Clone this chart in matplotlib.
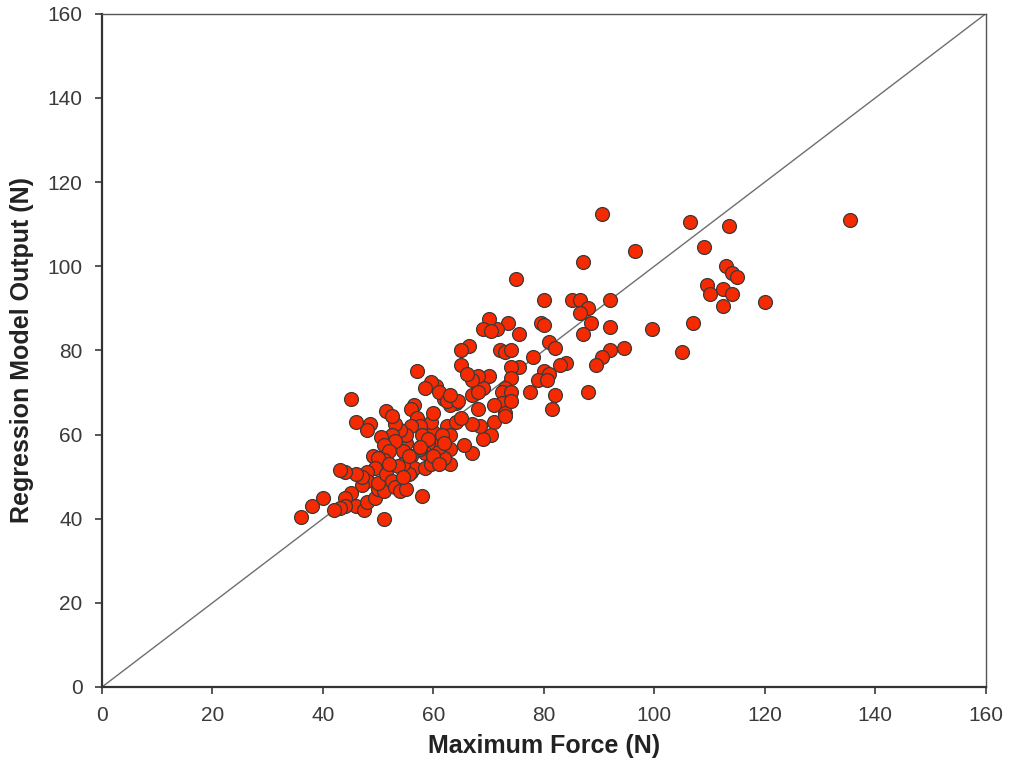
import matplotlib
matplotlib.use("Agg")
import matplotlib.pyplot as plt
import numpy as np

max_force = [
    135.4, 90.5, 106.5, 113.5, 96.5, 87.0, 75.0, 109.0,
    109.5, 110.0, 112.5, 113.0, 114.0, 115.0, 114.0, 112.5, 120.0, 107.0, 105.0, 99.5, 94.5,
    85.0, 86.5, 88.0, 92.0, 86.5, 88.5, 92.0, 87.0, 92.0, 90.5, 89.5, 84.0, 83.0, 88.0, 81.5,
    82.0, 80.0, 79.5, 80.0, 81.0, 82.0, 80.0, 81.0, 79.0, 80.5, 78.0, 77.5,
    75.5, 73.5, 71.5, 70.0, 69.0, 70.5, 72.0, 73.0, 74.0, 75.5, 74.0, 74.0, 73.0, 72.5, 74.0,
    72.5, 71.0, 73.0, 74.0, 71.0, 70.5, 69.0, 73.0, 70.0, 69.0, 68.0, 67.0, 66.5, 65.0, 65.0,
    66.0, 67.0, 68.0, 68.0, 68.5, 67.0, 67.0, 65.5, 64.0, 63.0, 62.0, 62.5, 63.0, 63.0, 63.0,
    62.0, 61.0, 60.5, 60.0, 61.5, 59.5, 60.0, 60.5, 59.5, 61.0, 62.5, 58.5, 57.0, 56.5, 56.0,
    57.0, 57.5, 56.0, 58.0, 59.0, 58.5, 57.5, 56.0, 55.0, 54.5, 55.0, 54.0, 53.0, 52.5, 53.0,
    51.5, 52.5, 50.5, 51.0, 52.0, 51.0, 49.0, 48.5, 48.0, 46.0, 45.0, 50.0, 49.5, 48.0, 48.0,
    47.0, 47.0, 46.0, 44.0, 43.0, 45.0, 44.0, 46.0, 44.0, 43.0, 42.0, 40.0, 38.0, 36.0, 47.5,
    48.0, 49.5, 50.0, 51.0, 50.0, 51.5, 52.5, 53.0, 54.0, 55.0, 56.0, 56.5, 55.5, 54.5, 53.5,
    52.0, 51.0, 58.0, 58.5, 59.5, 60.0, 61.0, 62.0, 64.0, 65.0, 64.5, 63.0, 59.0, 57.5, 55.5,
    54.5,
]
model_output = [
    111.0, 112.5, 110.5, 109.5, 103.5, 101.0, 97.0, 104.5,
    95.5, 93.5, 94.5, 100.0, 98.5, 97.5, 93.5, 90.5, 91.5, 86.5, 79.5, 85.0, 80.5,
    92.0, 92.0, 90.0, 92.0, 89.0, 86.5, 85.5, 84.0, 80.0, 78.5, 76.5, 77.0, 76.5, 70.0, 66.0,
    69.5, 92.0, 86.5, 86.0, 82.0, 80.5, 75.0, 74.5, 73.0, 73.0, 78.5, 70.0,
    84.0, 86.5, 85.0, 87.5, 85.0, 84.5, 80.0, 79.5, 80.0, 76.0, 76.0, 73.5, 71.0, 70.0, 70.0,
    67.5, 67.0, 65.0, 68.0, 63.0, 60.0, 59.0, 64.5, 74.0, 71.0, 74.0, 73.0, 81.0, 80.0, 76.5,
    74.5, 69.5, 70.0, 66.0, 62.0, 62.5, 55.5, 57.5, 67.5, 67.0, 68.5, 62.0, 60.0, 56.5, 53.0,
    54.5, 57.0, 59.0, 60.5, 60.0, 63.0, 65.0, 71.5, 72.5, 70.0, 68.0, 71.0, 75.0, 67.0, 66.0,
    64.0, 62.0, 62.0, 60.0, 58.0, 55.5, 56.5, 55.0, 58.0, 56.0, 60.0, 61.0, 62.5, 60.0, 58.5,
    65.5, 64.5, 59.5, 57.5, 56.0, 54.0, 55.0, 62.5, 61.0, 63.0, 68.5, 54.5, 52.0, 51.0, 49.0,
    48.0, 50.0, 50.5, 51.0, 51.5, 46.0, 45.0, 43.0, 43.0, 42.5, 42.0, 45.0, 43.0, 40.5, 42.0,
    44.0, 45.0, 47.0, 46.5, 48.5, 50.5, 49.0, 47.5, 46.5, 47.0, 51.0, 52.0, 50.5, 53.0, 52.5,
    53.0, 40.0, 45.5, 52.0, 53.0, 55.0, 53.0, 58.0, 63.0, 64.0, 68.0, 69.5, 59.0, 57.0, 55.0,
    50.0,
]

plt.rcParams['font.family'] = ['Liberation Sans', 'DejaVu Sans']

fig = plt.figure(figsize=(10.1, 7.65), dpi=100)
ax = fig.add_axes([0.101, 0.102, 0.875, 0.880])

# 1:1 reference line
ax.plot([0, 160], [0, 160], color='#6e6e6e', linewidth=1.0, zorder=1)

ax.scatter(max_force, model_output, s=100, color='#f52a00', edgecolors='#3a3a3a',
           linewidths=0.9, zorder=3)

ax.set_xlim(0, 160)
ax.set_ylim(0, 160)
ax.set_xticks(np.arange(0, 161, 20))
ax.set_yticks(np.arange(0, 161, 20))
ax.tick_params(direction='out', length=5, width=1.2, labelsize=15, colors='#3a3a3a',
               pad=9)
for side in ['left', 'bottom']:
    ax.spines[side].set_linewidth(1.6)
    ax.spines[side].set_color('#333333')
for side in ['top', 'right']:
    ax.spines[side].set_linewidth(1.0)
    ax.spines[side].set_color('#555555')

ax.set_xlabel('Maximum Force (N)', fontsize=18, fontweight='bold', color='#222222', labelpad=6)
ax.set_ylabel('Regression Model Output (N)', fontsize=18, fontweight='bold', color='#222222',
              labelpad=10)

fig.savefig('out.png', dpi=100)
